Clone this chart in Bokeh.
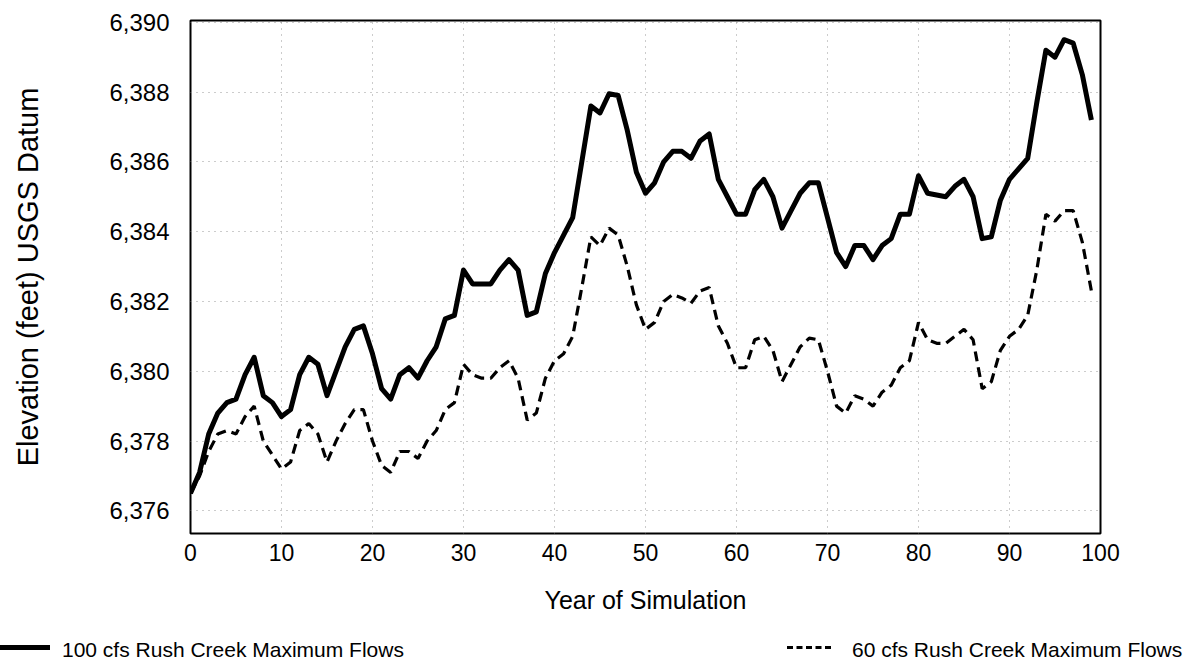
from bokeh.plotting import figure
from bokeh.layouts import column
from bokeh.models import NumeralTickFormatter, FixedTicker, Div
from bokeh.embed import file_html
from bokeh.resources import INLINE

years = list(range(0, 100))
flow_100 = [6376.5, 6377.1, 6378.2, 6378.8, 6379.1, 6379.2, 6379.9, 6380.4, 6379.3, 6379.1,
            6378.7, 6378.9, 6379.9, 6380.4, 6380.2, 6379.3, 6380.0, 6380.7, 6381.2, 6381.3,
            6380.5, 6379.5, 6379.2, 6379.9, 6380.1, 6379.8, 6380.3, 6380.7, 6381.5, 6381.6,
            6382.9, 6382.5, 6382.5, 6382.5, 6382.9, 6383.2, 6382.9, 6381.6, 6381.7, 6382.8,
            6383.4, 6383.9, 6384.4, 6386.0, 6387.6, 6387.4, 6387.95, 6387.9, 6386.9, 6385.7,
            6385.1, 6385.4, 6386.0, 6386.3, 6386.3, 6386.1, 6386.6, 6386.8, 6385.5, 6385.0,
            6384.5, 6384.5, 6385.2, 6385.5, 6385.0, 6384.1, 6384.6, 6385.1, 6385.4, 6385.4,
            6384.4, 6383.4, 6383.0, 6383.6, 6383.6, 6383.2, 6383.6, 6383.8, 6384.5, 6384.5,
            6385.6, 6385.1, 6385.05, 6385.0, 6385.3, 6385.5, 6385.0, 6383.8, 6383.85, 6384.9,
            6385.5, 6385.8, 6386.1, 6387.7, 6389.2, 6389.0, 6389.5, 6389.4, 6388.5, 6387.2]
flow_60 = [6376.5, 6377.0, 6377.7, 6378.2, 6378.3, 6378.2, 6378.7, 6379.0, 6378.0, 6377.6,
           6377.2, 6377.4, 6378.3, 6378.5, 6378.2, 6377.4, 6378.0, 6378.5, 6378.9, 6378.9,
           6378.0, 6377.3, 6377.1, 6377.7, 6377.7, 6377.5, 6378.0, 6378.3, 6378.9, 6379.1,
           6380.2, 6379.9, 6379.8, 6379.8, 6380.1, 6380.3, 6379.8, 6378.6, 6378.8, 6379.8,
           6380.3, 6380.5, 6381.0, 6382.4, 6383.85, 6383.6, 6384.1, 6383.9, 6383.0, 6381.9,
           6381.2, 6381.4, 6382.0, 6382.2, 6382.1, 6381.95, 6382.3, 6382.4, 6381.3, 6380.8,
           6380.1, 6380.1, 6380.9, 6381.0, 6380.6, 6379.7, 6380.2, 6380.7, 6380.95, 6380.9,
           6380.0, 6379.0, 6378.8, 6379.3, 6379.2, 6379.0, 6379.4, 6379.6, 6380.1, 6380.3,
           6381.4, 6380.9, 6380.8, 6380.8, 6381.0, 6381.2, 6380.9, 6379.5, 6379.7, 6380.6,
           6381.0, 6381.2, 6381.6, 6382.9, 6384.5, 6384.3, 6384.6, 6384.6, 6383.7, 6382.3]
x_ticks = [0, 10, 20, 30, 40, 50, 60, 70, 80, 90, 100]
y_ticks = [6376, 6378, 6380, 6382, 6384, 6386, 6388, 6390]
label_100 = "100 cfs Rush Creek Maximum Flows"
label_60 = "60 cfs Rush Creek Maximum Flows"

FONT = "Liberation Sans"

p = figure(width=1178, height=626, x_range=(0, 100), y_range=(6375.35, 6390.05),
           output_backend="svg", toolbar_location=None,
           min_border_left=190, min_border_right=78, min_border_top=20, min_border_bottom=93)

p.line(years, flow_100, line_color="black", line_width=5, line_join="round")
p.line(years, flow_60, line_color="black", line_width=3.2, line_dash="10 6")

p.outline_line_color = "black"
p.outline_line_width = 2
p.background_fill_color = "white"
p.border_fill_color = "white"

for g in (p.xgrid, p.ygrid):
    g.grid_line_color = "#999999"
    g.grid_line_dash = "1 5"
    g.grid_line_width = 1
p.xgrid.ticker = FixedTicker(ticks=x_ticks)
p.ygrid.ticker = FixedTicker(ticks=y_ticks)

p.xaxis.ticker = FixedTicker(ticks=x_ticks)
p.yaxis.ticker = FixedTicker(ticks=y_ticks)
p.yaxis.formatter = NumeralTickFormatter(format="0,0")

for ax in (p.xaxis[0], p.yaxis[0]):
    ax.axis_line_color = None
    ax.major_tick_line_color = None
    ax.minor_tick_line_color = None
    ax.major_label_text_font = FONT
    ax.major_label_text_color = "black"
    ax.axis_label_text_font = FONT
    ax.axis_label_text_font_style = "normal"
    ax.axis_label_text_color = "black"

p.xaxis.major_label_text_font_size = "23px"
p.yaxis.major_label_text_font_size = "24px"
p.yaxis.axis_label = "Elevation (feet) USGS Datum"
p.yaxis.axis_label_text_font_size = "29px"
p.yaxis.major_label_standoff = 15
p.yaxis.axis_label_standoff = 62
p.xaxis.axis_label = "Year of Simulation"
p.xaxis.axis_label_text_font_size = "25px"
p.xaxis.major_label_standoff = 4
p.xaxis.axis_label_standoff = 22

legend_html = f"""
<div style="position:relative;width:1178px;height:36px;font-family:'Liberation Sans';font-size:21px;color:black;">
  <div style="position:absolute;left:0px;top:19px;width:50px;height:0;border-top:5px solid black;"></div>
  <span style="position:absolute;left:62px;top:9px;white-space:nowrap;">{label_100}</span>
  <div style="position:absolute;left:787px;top:20px;width:44px;height:0;border-top:3px dashed black;"></div>
  <span style="position:absolute;left:852px;top:9px;white-space:nowrap;">{label_60}</span>
</div>
"""
legend_div = Div(text=legend_html, width=1178, height=36, margin=0)

layout = column(p, legend_div, spacing=0)
open("out.html", "w").write(file_html(layout, INLINE))
